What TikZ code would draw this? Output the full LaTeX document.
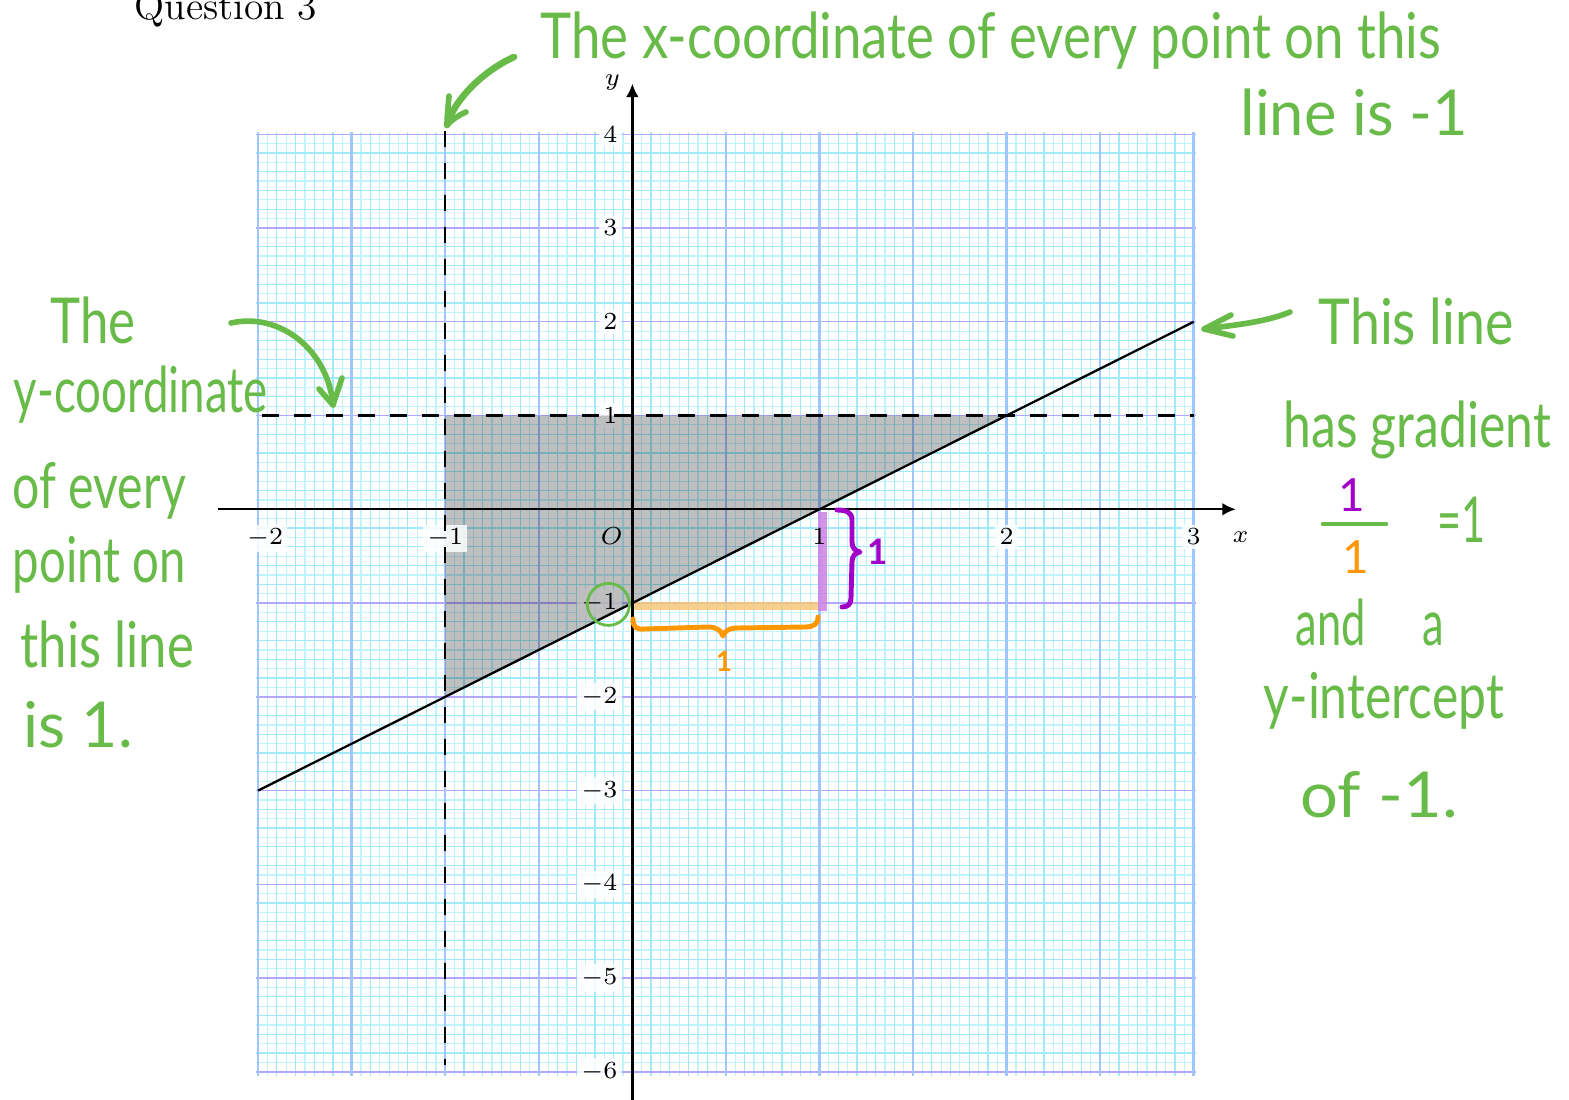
\documentclass[tikz,border=0pt]{standalone}
\usepackage{fontspec}
\usepackage{graphicx}
\usetikzlibrary{arrows.meta}
\newfontfamily\handfont{Lato}
\definecolor{hgreen}{RGB}{104,187,72}
\definecolor{hpurple}{RGB}{160,0,200}
\definecolor{horange}{RGB}{255,152,0}
\definecolor{gminor}{RGB}{192,244,252}
\definecolor{gmid}{RGB}{160,234,250}
\definecolor{ghalf}{RGB}{160,198,255}
\definecolor{gmajor}{RGB}{180,165,255}
\definecolor{obar}{RGB}{245,200,120}
\definecolor{pbar}{RGB}{205,135,230}
\newcommand{\hw}[2]{\resizebox{#1}{\height}{\handfont\fontsize{18}{22}\selectfont #2}}
\begin{document}
\begin{tikzpicture}[x=0.01cm,y=-0.01cm,
  hand/.style={text=hgreen, inner sep=0pt, anchor=base west},
  hstroke/.style={draw=hgreen, line width=1.6pt, line cap=round, line join=round},
  ticklab/.style={font=\fontsize{7.4}{9}\selectfont, fill=white, fill opacity=0.85, text opacity=1, inner sep=1.2pt},
  axislab/.style={font=\fontsize{7.4}{9}\selectfont, inner sep=0pt},
  gline/.style={line width=0.35pt},
  dashline/.style={line width=0.7pt, dash pattern=on 4.8pt off 4.3pt},
]
\useasboundingbox (0,0) rectangle (1569,1100);

\node[anchor=base west, inner sep=0pt, font=\fontsize{11.2}{13}\selectfont] (q) at (134,20) {Question 3};

\begin{scope}[shift={(6.32cm,-5.09cm)}, x=1.87cm, y=0.937cm]
  % grid
  \foreach \i in {0,...,100} \draw[gminor, gline] ({-2+\i*0.05},-6.04) -- ({-2+\i*0.05},4.02);
  \foreach \j in {0,...,100} \draw[gminor, gline] (-2.01,{-6+\j*0.1}) -- (3.01,{-6+\j*0.1});
  \foreach \i in {0,...,50} \draw[gmid, gline] ({-2+\i*0.1},-6.04) -- ({-2+\i*0.1},4.02);
  \foreach \j in {0,...,50} \draw[gmid, gline] (-2.01,{-6+\j*0.2}) -- (3.01,{-6+\j*0.2});
  \foreach \j in {-6,...,4} \draw[gmajor, line width=0.4pt] (-2.01,\j) -- (3.01,\j);
  \foreach \i in {0,...,10} \draw[ghalf, line width=0.7pt] ({-2+\i*0.5},-6.04) -- ({-2+\i*0.5},4.02);

  % y tick labels
  \foreach \v/\n in {4/y4,3/y3,2/y2,1/y1,-1/ym1,-2/ym2,-3/ym3,-4/ym4,-5/ym5,-6/ym6}
    \node[ticklab, anchor=east] (\n) at ([xshift=-0.1cm]0,\v) {$\v$};

  % shaded region
  \fill[black, fill opacity=0.25] (-1,1) -- (2,1) -- (-1,-2) -- cycle;

  % highlight bars
  \draw[obar, opacity=0.85, line width=2.3pt] (0,-1.035) -- (0.995,-1.035);
  \draw[pbar, opacity=0.9, line width=2.4pt] (1.016,-0.03) -- (1.016,-1.08);

  % x tick labels
  \node[ticklab, anchor=north] (xm2) at ([xshift=0.07cm, yshift=-0.146cm]-2,0) {$-2$};
  \foreach \v/\n in {-1/xm1,2/x2,3/x3}
    \node[ticklab, anchor=north] (\n) at ([yshift=-0.146cm]\v,0) {$\v$};
  \node[axislab, anchor=north, inner sep=1.2pt] (x1) at ([yshift=-0.146cm]1,0) {$1$};
  \node[axislab, anchor=north east] (o) at ([xshift=-0.09cm, yshift=-0.18cm]0,0) {$O$};

  % dashed lines
  \draw[dashline] (-1,4.04) -- (-1,-5.93);
  \draw[dashline] (-1.98,1) -- (3,1);

  % line y = x - 1
  \draw[line width=0.65pt] (-2,-3) -- (3,2);

  % axes
  \draw[line width=0.65pt, -{Latex[length=3.8pt,width=3.6pt]}] (-2.214,0) -- (3.225,0);
  \draw[line width=0.65pt, -{Latex[length=3.8pt,width=3.6pt]}] (0,-6.31) -- (0,4.54);
  \node[axislab] (xl) at (3.251,-0.299) {$x$};
  \node[axislab] (yl) at (-0.107,4.55) {$y$};

  % green circle at intercept
  \node[draw=hgreen, line width=0.8pt, circle, minimum size=0.42cm, inner sep=0pt] (gc) at (-0.128,-1.014) {};
\end{scope}

% orange brace
\draw[horange, line width=1.4pt, line cap=round, line join=round]
  (633,619) .. controls (633,627) and (636,630) .. (645,629) -- (708,627)
  .. controls (716,627) and (721,630) .. (723,636)
  .. controls (725,630) and (730,628) .. (738,628) -- (805,627)
  .. controls (814,627) and (818,624) .. (818,617);
\node[text=horange, inner sep=0pt, font=\handfont\bfseries\fontsize{8}{9}\selectfont] (o1) at (724,661) {1};

% purple brace
\draw[hpurple, line width=1.4pt, line cap=round, line join=round]
  (837,510) .. controls (846,510) and (852,512) .. (852,520) -- (852,542)
  .. controls (852,548) and (855,551) .. (860,552)
  .. controls (855,553) and (852,556) .. (852,562) -- (851,598)
  .. controls (851,604) and (848,607) .. (842,607);
\node[text=hpurple, inner sep=0pt, font=\handfont\bfseries\fontsize{10}{11}\selectfont] (p1) at (878,552) {1};

% top arrow
\coordinate (a1s) at (514,57);
\coordinate (a1t) at (447,125);
\coordinate (a1b1) at (449,96);
\coordinate (a1b2) at (466,112);
\draw[hstroke, line width=1.9pt] (a1s) .. controls (485,70) and (455,98) .. (a1t);
\draw[hstroke] (a1b1) .. controls (448,108) and (447,117) .. (a1t) .. controls (453,119) and (459,115) .. (a1b2);

% left arrow
\coordinate (a2s) at (231,323);
\coordinate (a2t) at (333,405);
\coordinate (a2b1) at (319,389);
\coordinate (a2b2) at (342,378);
\draw[hstroke] (a2s) .. controls (280,312) and (328,350) .. (a2t);
\draw[hstroke] (a2b1) -- (a2t) -- (a2b2);

% right arrow
\coordinate (a3s) at (1290,312);
\coordinate (a3t) at (1204,329);
\coordinate (a3b1) at (1231,315);
\coordinate (a3b2) at (1233,336);
\draw[hstroke] (a3s) .. controls (1266,322) and (1236,325) .. (a3t);
\draw[hstroke] (a3b1) -- (a3t) -- (a3b2);

% top text
\node[hand] (t1) at (540,58) {\hw{9.0cm}{The x-coordinate of every point on this}};
\node[hand] (t2) at (1240,135) {\hw{2.27cm}{line is -1}};

% left text
\node[hand] (l1) at (50,343) {\hw{0.85cm}{The}};
\node[hand] (l2) at (13,412) {\hw{2.54cm}{y-coordinate}};
\node[hand] (l3) at (12,508) {\hw{1.73cm}{of every}};
\node[hand] (l4) at (12,582) {\hw{1.73cm}{point on}};
\node[hand] (l5) at (20,667) {\hw{1.73cm}{this line}};
\node[hand] (l6) at (23,747) {\hw{1.09cm}{is 1.}};

% right text
\node[hand] (r1) at (1318,344) {\hw{1.95cm}{This line}};
\node[hand] (r2) at (1283,447) {\hw{2.67cm}{has gradient}};
\node[text=hpurple, inner sep=0pt, font=\handfont\fontsize{13}{15}\selectfont] (num) at (1352,495) {1};
\coordinate (fb1) at (1323,524);
\coordinate (fb2) at (1386,524);
\draw[hgreen, line width=1.3pt, line cap=round] (fb1) -- (fb2);
\node[text=horange, inner sep=0pt, font=\handfont\fontsize{13}{15}\selectfont] (den) at (1356,557) {1};
\node[hand] (eq) at (1437,542) {\hw{0.48cm}{=1}};
\node[hand] (r3) at (1295,645) {\hw{1.48cm}{and\hspace{1.3em}a}};
\node[hand] (r4) at (1263,718) {\hw{2.40cm}{y-intercept}};
\node[hand] (r5) at (1300,817) {\hw{1.57cm}{of -1.}};
\end{tikzpicture}
\end{document}
